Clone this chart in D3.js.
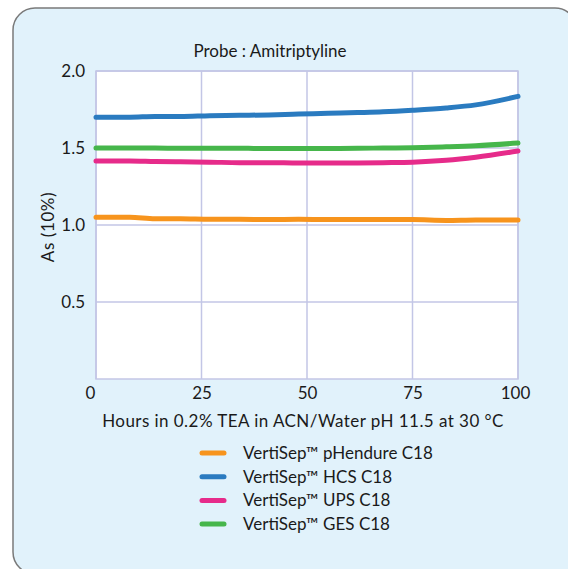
<!DOCTYPE html>
<html>
<head>
<meta charset="utf-8">
<script src="https://cdn.jsdelivr.net/npm/d3@7"></script>
<style>
  body { margin: 0; background: #fff; overflow: hidden; }
  svg { display: block; }
  text { font-family: Lato, "Open Sans", sans-serif; fill: #1a1a1a; }
</style>
</head>
<body>
<div id="chart"></div>
<script>
  // Data
  const hours = [0, 8, 14, 20, 27, 34, 41, 48, 55, 62, 68, 75, 83, 90, 100];
  const pHendure = [1.05, 1.05, 1.04, 1.04, 1.037, 1.037, 1.035, 1.037, 1.035, 1.035, 1.035, 1.035, 1.03, 1.033, 1.033];
  const hcs = [1.70, 1.70, 1.705, 1.705, 1.71, 1.712, 1.715, 1.72, 1.725, 1.73, 1.735, 1.745, 1.76, 1.78, 1.835];
  const ups = [1.415, 1.415, 1.412, 1.41, 1.408, 1.405, 1.405, 1.402, 1.402, 1.403, 1.405, 1.408, 1.42, 1.44, 1.48];
  const ges = [1.50, 1.50, 1.50, 1.498, 1.498, 1.498, 1.497, 1.497, 1.497, 1.498, 1.5, 1.502, 1.508, 1.515, 1.532];

  const seriesNames = ["VertiSep\u2122 pHendure C18", "VertiSep\u2122 HCS C18", "VertiSep\u2122 UPS C18", "VertiSep\u2122 GES C18"];
  const seriesValues = [pHendure, hcs, ups, ges];
  const seriesColors = ["#f7941d", "#2a7bc0", "#e62b8a", "#46b64b"];

  const xTicks = [0, 25, 50, 75, 100];
  const yTicks = [0.5, 1.0, 1.5, 2.0];

  const W = 568, H = 569;
  const svg = d3.select("#chart").append("svg")
    .attr("width", W).attr("height", H);

  // panel (runs off the right and bottom edges)
  svg.append("rect")
    .attr("x", 13).attr("y", 8)
    .attr("width", 564).attr("height", 566)
    .attr("rx", 22)
    .attr("fill", "#e1f2fb")
    .attr("stroke", "#7a7a7a")
    .attr("stroke-width", 1.5);

  const x = d3.scaleLinear().domain([0, 100]).range([96, 518]);
  const y = d3.scaleLinear().domain([0, 2.0]).range([379, 71]);

  // plot area
  svg.append("rect")
    .attr("x", x(0)).attr("y", y(2))
    .attr("width", x(100) - x(0)).attr("height", y(0) - y(2))
    .attr("fill", "#fff")
    .attr("stroke", "#c3c6e6").attr("stroke-width", 1.5);

  const grid = svg.append("g").attr("stroke", "#c3c6e6").attr("stroke-width", 1.5);
  grid.selectAll("line.v").data(xTicks).join("line")
    .attr("x1", d => x(d)).attr("x2", d => x(d))
    .attr("y1", y(0)).attr("y2", y(2));
  grid.selectAll("line.h").data(yTicks).join("line")
    .attr("x1", x(0)).attr("x2", x(100))
    .attr("y1", d => y(d)).attr("y2", d => y(d));

  // y axis labels
  const yAxis = svg.append("g")
    .attr("transform", `translate(${x(0)},0)`)
    .call(d3.axisLeft(y).tickValues(yTicks).tickFormat(d3.format(".1f")).tickSize(0).tickPadding(11));
  yAxis.select(".domain").remove();
  yAxis.selectAll("text").style("font-size", "17px").attr("fill", "#1a1a1a").attr("font-family", null);

  // x axis labels
  const xAxis = svg.append("g")
    .attr("transform", `translate(0,${y(0)})`)
    .call(d3.axisBottom(x).tickValues(xTicks).tickSize(0).tickPadding(8));
  xAxis.select(".domain").remove();
  xAxis.selectAll("text").style("font-size", "17px").attr("fill", "#1a1a1a").attr("font-family", null);
  // the end labels sit slightly off their gridlines
  xAxis.selectAll(".tick").filter(d => d === 0).select("text").attr("dx", -6);
  xAxis.selectAll(".tick").filter(d => d === 100).select("text").attr("dx", -3);

  // lines
  const line = d3.line()
    .x((d, i) => x(hours[i]))
    .y(d => y(d))
    .curve(d3.curveMonotoneX);

  svg.append("g").selectAll("path").data(seriesValues).join("path")
    .attr("d", d => line(d))
    .attr("fill", "none")
    .attr("stroke", (d, i) => seriesColors[i])
    .attr("stroke-width", 5)
    .attr("stroke-linecap", "round");

  // titles
  svg.append("text")
    .attr("x", 270).attr("y", 57)
    .attr("text-anchor", "middle")
    .style("font-size", "17px")
    .text("Probe : Amitriptyline");

  svg.append("text")
    .attr("x", 303).attr("y", 427)
    .attr("text-anchor", "middle")
    .style("font-size", "17px")
    .style("letter-spacing", "0.45px")
    .text("Hours in 0.2% TEA in ACN/Water pH 11.5 at 30 \u00B0C");

  svg.append("text")
    .attr("transform", "translate(54,227) rotate(-90)")
    .attr("text-anchor", "middle")
    .style("font-size", "17px")
    .style("letter-spacing", "0.6px")
    .text("As (10%)");

  // legend
  const legend = svg.append("g");
  const rows = legend.selectAll("g").data(seriesNames).join("g")
    .attr("transform", (d, i) => `translate(0,${453 + i * 23.7})`);
  rows.append("line")
    .attr("x1", 202).attr("x2", 224)
    .attr("stroke", (d, i) => seriesColors[i])
    .attr("stroke-width", 5)
    .attr("stroke-linecap", "round");
  rows.append("text")
    .attr("x", 243).attr("y", 6)
    .style("font-size", "17px")
    .text(d => d);
</script>
</body>
</html>
